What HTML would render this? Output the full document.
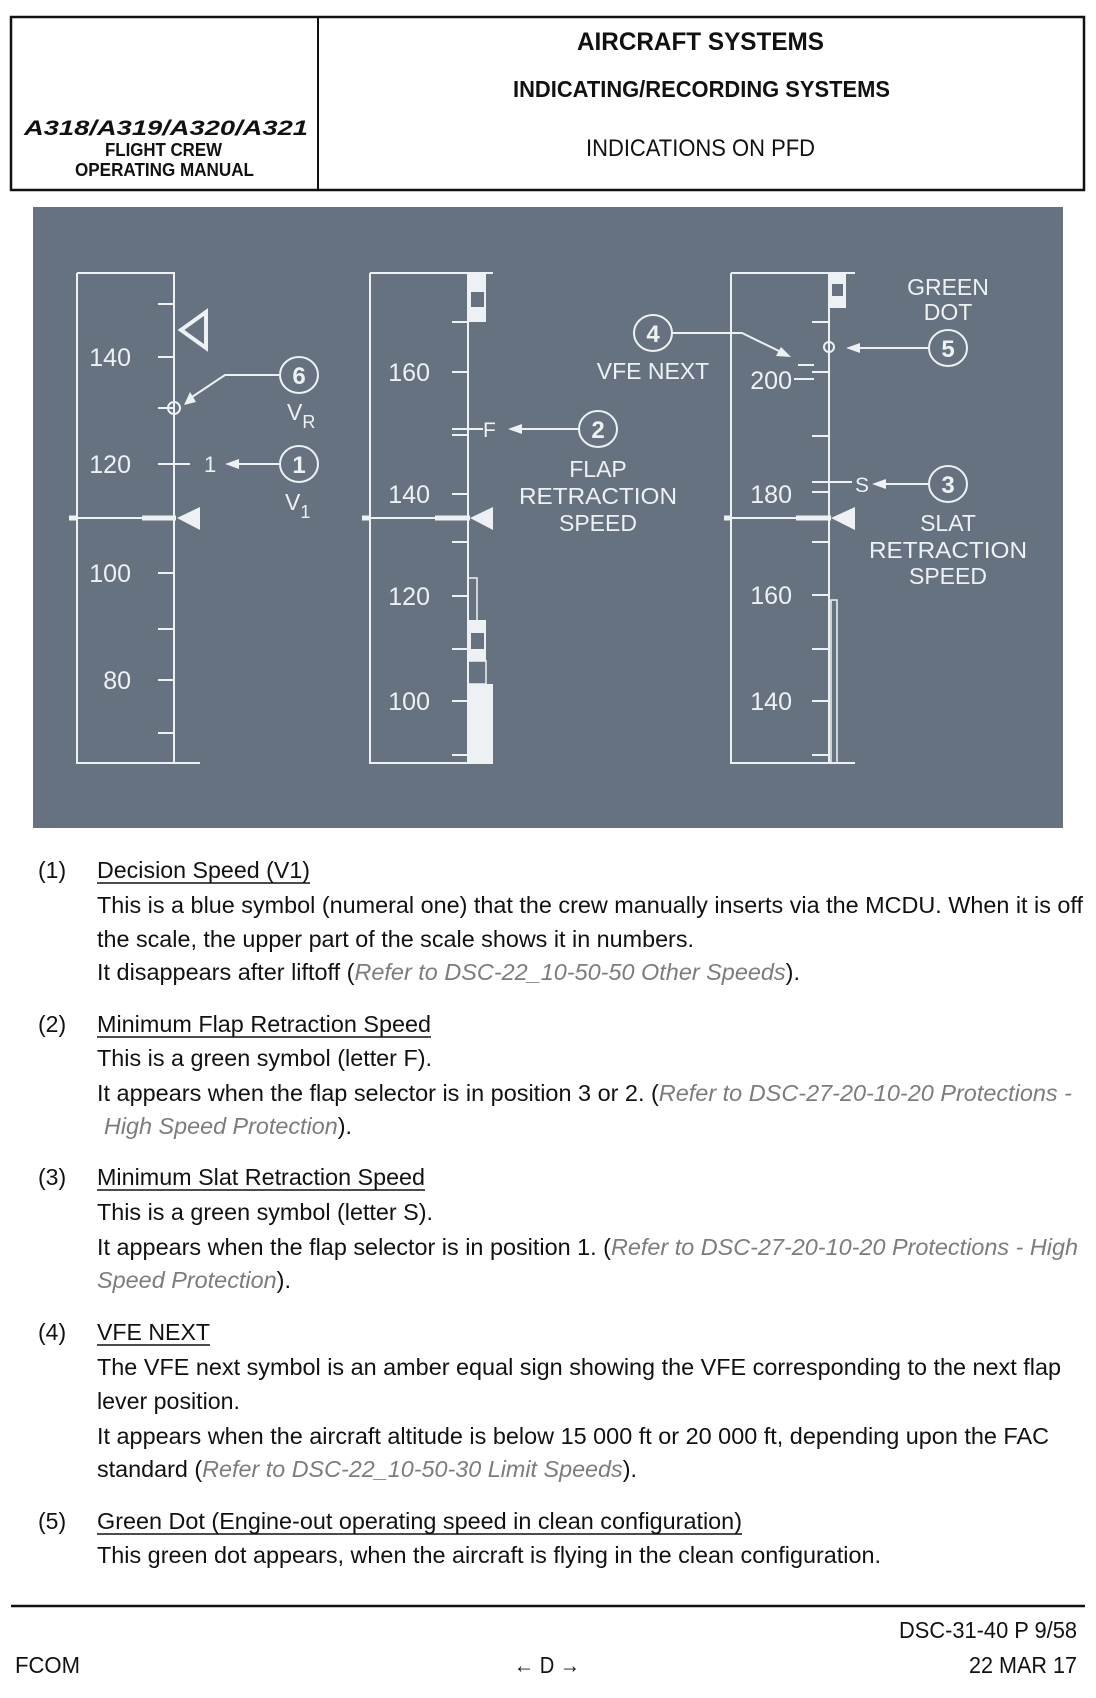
<!DOCTYPE html>
<html><head><meta charset="utf-8"><style>
html,body{margin:0;padding:0;background:#fff;}
svg{display:block;}
text{font-family:"Liberation Sans",sans-serif;}
.w{fill:#eef1f4;}
.ws{stroke:#eef1f4;fill:none;stroke-width:2;}
.b{fill:#111;font-size:23px;}
.g{fill:#7c7c7c;font-style:italic;}
</style></head><body>
<svg width="1096" height="1698" viewBox="0 0 1096 1698" xmlns="http://www.w3.org/2000/svg">
<!-- header -->
<rect x="11" y="17" width="1073" height="173" fill="none" stroke="#111" stroke-width="2.5"/>
<line x1="318" y1="17" x2="318" y2="190" stroke="#111" stroke-width="2"/>
<text x="577" y="50" font-size="25" font-weight="bold" textLength="247" lengthAdjust="spacingAndGlyphs" fill="#111">AIRCRAFT SYSTEMS</text>
<text x="513" y="97" font-size="23" font-weight="bold" textLength="377" lengthAdjust="spacingAndGlyphs" fill="#111">INDICATING/RECORDING SYSTEMS</text>
<text x="586" y="156" font-size="24" textLength="229" lengthAdjust="spacingAndGlyphs" fill="#111">INDICATIONS ON PFD</text>
<text x="24" y="135" font-size="21" font-weight="bold" font-style="italic" textLength="284" lengthAdjust="spacingAndGlyphs" fill="#111">A318/A319/A320/A321</text>
<text x="105" y="156" font-size="18" font-weight="bold" textLength="117" lengthAdjust="spacingAndGlyphs" fill="#111">FLIGHT CREW</text>
<text x="75" y="176" font-size="18" font-weight="bold" textLength="179" lengthAdjust="spacingAndGlyphs" fill="#111">OPERATING MANUAL</text>

<!-- panel -->
<rect x="33" y="207" width="1030" height="621" fill="#66727f"/>

<!-- Gauge 1 -->
<g class="ws">
<polyline points="77,273 77,763 200,763"/>
<line x1="77" y1="273" x2="175" y2="273"/>
<line x1="174" y1="273" x2="174" y2="763"/>
<line x1="158" y1="304" x2="174" y2="304"/><line x1="158" y1="357" x2="174" y2="357"/>
<line x1="158" y1="408" x2="174" y2="408"/><line x1="158" y1="464" x2="190" y2="464"/>
<line x1="158" y1="573" x2="174" y2="573"/><line x1="158" y1="629" x2="174" y2="629"/>
<line x1="158" y1="680" x2="174" y2="680"/><line x1="158" y1="733" x2="174" y2="733"/>
<line x1="69" y1="518" x2="174" y2="518"/>
<circle cx="174" cy="408" r="6"/>
<polygon points="181,330 206,312 206,348" stroke-width="4"/>
<polyline points="280,375 225,375 192,397"/>
<line x1="280" y1="464" x2="236" y2="464"/>
<ellipse cx="299" cy="375" rx="19" ry="18"/>
<ellipse cx="299" cy="464" rx="19" ry="18"/>
</g>
<line x1="142" y1="518" x2="176" y2="518" stroke="#eef1f4" stroke-width="5"/>
<line x1="69" y1="518" x2="77" y2="518" stroke="#eef1f4" stroke-width="5"/>
<polygon class="w" points="177,518 200,507 200,530"/>
<polygon class="w" points="184,405 190,392 196,402"/>
<polygon class="w" points="225,464 239,459 239,469"/>
<g class="w" font-size="25" text-anchor="end">
<text x="131" y="366">140</text><text x="131" y="473">120</text><text x="131" y="582">100</text><text x="131" y="689">80</text>
</g>
<text class="w" x="204" y="472" font-size="22">1</text>
<g class="w" font-size="24" font-weight="bold" text-anchor="middle"><text x="299" y="384">6</text><text x="299" y="473">1</text></g>
<text class="w" x="287" y="420" font-size="23">V<tspan font-size="18" dy="8">R</tspan></text>
<text class="w" x="285" y="510" font-size="23">V<tspan font-size="18" dy="8">1</tspan></text>

<!-- Gauge 2 -->
<g class="ws">
<line x1="370" y1="273" x2="493" y2="273"/>
<polyline points="370,273 370,763 493,763"/>
<line x1="468" y1="273" x2="468" y2="763"/>
<line x1="452" y1="322" x2="468" y2="322"/><line x1="452" y1="372" x2="468" y2="372"/>
<line x1="452" y1="429" x2="483" y2="429"/><line x1="452" y1="435" x2="468" y2="435"/>
<line x1="452" y1="494" x2="468" y2="494"/><line x1="452" y1="542" x2="468" y2="542"/>
<line x1="452" y1="596" x2="468" y2="596"/><line x1="452" y1="649" x2="468" y2="649"/>
<line x1="452" y1="701" x2="468" y2="701"/><line x1="452" y1="755" x2="468" y2="755"/>
<line x1="362" y1="518" x2="468" y2="518"/>
<polyline points="468,578 477,578 477,620" stroke-width="1.5"/>
<rect x="468" y="661" width="18" height="23" stroke-width="1.5"/>
<line x1="579" y1="429" x2="520" y2="429"/>
<ellipse cx="598" cy="429" rx="19" ry="18"/>
</g>
<rect class="w" x="468" y="273" width="18" height="49"/>
<rect x="471" y="292" width="13" height="15" fill="#66727f"/>
<rect class="w" x="468" y="620" width="18" height="41"/>
<rect x="471" y="633" width="13" height="16" fill="#66727f"/>
<rect class="w" x="468" y="684" width="25" height="79"/>
<line x1="435" y1="518" x2="470" y2="518" stroke="#eef1f4" stroke-width="5"/>
<line x1="362" y1="518" x2="370" y2="518" stroke="#eef1f4" stroke-width="5"/>
<polygon class="w" points="470,518 493,507 493,530"/>
<polygon class="w" points="508,429 522,424 522,434"/>
<g class="w" font-size="25" text-anchor="end">
<text x="430" y="381">160</text><text x="430" y="503">140</text><text x="430" y="605">120</text><text x="430" y="710">100</text>
</g>
<text class="w" x="483" y="437" font-size="21">F</text>
<text class="w" x="598" y="438" font-size="24" font-weight="bold" text-anchor="middle">2</text>
<g class="w" font-size="23" text-anchor="middle">
<text x="598" y="477">FLAP</text><text x="598" y="504" textLength="158" lengthAdjust="spacingAndGlyphs">RETRACTION</text><text x="598" y="531">SPEED</text>
</g>

<!-- Gauge 3 -->
<g transform="translate(-4,0)">
<g class="ws">
<line x1="735" y1="273" x2="859" y2="273"/>
<polyline points="735,273 735,763 859,763"/>
<line x1="833" y1="273" x2="833" y2="763"/>
<line x1="816" y1="322" x2="833" y2="322"/>
<line x1="802" y1="365" x2="818" y2="365"/>
<line x1="816" y1="372" x2="833" y2="372"/>
<line x1="798" y1="379" x2="818" y2="379"/>
<line x1="816" y1="436" x2="833" y2="436"/>
<line x1="816" y1="482" x2="856" y2="482"/><line x1="816" y1="492" x2="833" y2="492"/>
<line x1="816" y1="542" x2="833" y2="542"/><line x1="816" y1="595" x2="833" y2="595"/>
<line x1="816" y1="649" x2="833" y2="649"/><line x1="816" y1="701" x2="833" y2="701"/>
<line x1="816" y1="755" x2="833" y2="755"/>
<line x1="728" y1="518" x2="833" y2="518"/>
<polyline points="835,763 835,600 841,600 841,763" stroke-width="1.5"/>
<circle cx="833" cy="347" r="5"/>
<polyline points="676,333 746,333 783,351"/>
<line x1="933" y1="348" x2="864" y2="348"/>
<line x1="933" y1="484" x2="888" y2="484"/>
<ellipse cx="657" cy="333" rx="19" ry="18"/>
<ellipse cx="952" cy="348" rx="19" ry="18"/>
<ellipse cx="952" cy="484" rx="19" ry="18"/>
</g>
<rect class="w" x="833" y="273" width="17" height="35"/>
<rect x="836" y="284" width="11" height="12" fill="#66727f"/>
<line x1="800" y1="518" x2="835" y2="518" stroke="#eef1f4" stroke-width="5"/>
<line x1="728" y1="518" x2="735" y2="518" stroke="#eef1f4" stroke-width="5"/>
<polygon class="w" points="835,518 859,507 859,530"/>
<polygon class="w" points="795,357 780,356 785,347"/>
<polygon class="w" points="850,348 864,343 864,353"/>
<polygon class="w" points="876,484 890,479 890,489"/>
<g class="w" font-size="25" text-anchor="end">
<text x="796" y="389">200</text><text x="796" y="503">180</text><text x="796" y="604">160</text><text x="796" y="710">140</text>
</g>
<text class="w" x="859" y="492" font-size="21">S</text>
<g class="w" font-size="24" font-weight="bold" text-anchor="middle"><text x="657" y="342">4</text><text x="952" y="357">5</text><text x="952" y="493">3</text></g>
<g class="w" font-size="23" text-anchor="middle">
<text x="657" y="379">VFE NEXT</text>
<text x="952" y="295">GREEN</text><text x="952" y="320">DOT</text>
<text x="952" y="531">SLAT</text><text x="952" y="558" textLength="158" lengthAdjust="spacingAndGlyphs">RETRACTION</text><text x="952" y="584">SPEED</text>
</g>
</g>

<!-- body text -->
<g class="b">
<text x="38" y="878">(1)</text>
<text x="97" y="878" textLength="213" lengthAdjust="spacingAndGlyphs">Decision Speed (V1)</text>
<line x1="97" y1="883" x2="310" y2="883" stroke="#111" stroke-width="1.5"/>
<text x="97" y="913" textLength="986" lengthAdjust="spacingAndGlyphs">This is a blue symbol (numeral one) that the crew manually inserts via the MCDU. When it is off</text>
<text x="97" y="947" textLength="597" lengthAdjust="spacingAndGlyphs">the scale, the upper part of the scale shows it in numbers.</text>
<text x="97" y="980" textLength="703" lengthAdjust="spacingAndGlyphs">It disappears after liftoff (<tspan class="g">Refer to DSC-22_10-50-50 Other Speeds</tspan>).</text>

<text x="38" y="1032">(2)</text>
<text x="97" y="1032" textLength="334" lengthAdjust="spacingAndGlyphs">Minimum Flap Retraction Speed</text>
<line x1="97" y1="1037" x2="431" y2="1037" stroke="#111" stroke-width="1.5"/>
<text x="97" y="1066" textLength="335" lengthAdjust="spacingAndGlyphs">This is a green symbol (letter F).</text>
<text x="97" y="1101" textLength="975" lengthAdjust="spacingAndGlyphs">It appears when the flap selector is in position 3 or 2. (<tspan class="g">Refer to DSC-27-20-10-20 Protections -</tspan></text>
<text x="104" y="1134" textLength="248" lengthAdjust="spacingAndGlyphs"><tspan class="g">High Speed Protection</tspan>).</text>

<text x="38" y="1185">(3)</text>
<text x="97" y="1185" textLength="328" lengthAdjust="spacingAndGlyphs">Minimum Slat Retraction Speed</text>
<line x1="97" y1="1190" x2="425" y2="1190" stroke="#111" stroke-width="1.5"/>
<text x="97" y="1220" textLength="336" lengthAdjust="spacingAndGlyphs">This is a green symbol (letter S).</text>
<text x="97" y="1255" textLength="981" lengthAdjust="spacingAndGlyphs">It appears when the flap selector is in position 1. (<tspan class="g">Refer to DSC-27-20-10-20 Protections - High</tspan></text>
<text x="97" y="1288" textLength="194" lengthAdjust="spacingAndGlyphs"><tspan class="g">Speed Protection</tspan>).</text>

<text x="38" y="1340">(4)</text>
<text x="97" y="1340" textLength="113" lengthAdjust="spacingAndGlyphs">VFE NEXT</text>
<line x1="97" y1="1345" x2="210" y2="1345" stroke="#111" stroke-width="1.5"/>
<text x="97" y="1375" textLength="964" lengthAdjust="spacingAndGlyphs">The VFE next symbol is an amber equal sign showing the VFE corresponding to the next flap</text>
<text x="97" y="1409" textLength="143" lengthAdjust="spacingAndGlyphs">lever position.</text>
<text x="97" y="1444" textLength="952" lengthAdjust="spacingAndGlyphs">It appears when the aircraft altitude is below 15 000 ft or 20 000 ft, depending upon the FAC</text>
<text x="97" y="1477" textLength="540" lengthAdjust="spacingAndGlyphs">standard (<tspan class="g">Refer to DSC-22_10-50-30 Limit Speeds</tspan>).</text>

<text x="38" y="1529">(5)</text>
<text x="97" y="1529" textLength="645" lengthAdjust="spacingAndGlyphs">Green Dot (Engine-out operating speed in clean configuration)</text>
<line x1="97" y1="1534" x2="742" y2="1534" stroke="#111" stroke-width="1.5"/>
<text x="97" y="1563" textLength="784" lengthAdjust="spacingAndGlyphs">This green dot appears, when the aircraft is flying in the clean configuration.</text>
</g>

<!-- footer -->
<line x1="11" y1="1606" x2="1085" y2="1606" stroke="#111" stroke-width="2.5"/>
<text x="899" y="1638" font-size="23" textLength="178" lengthAdjust="spacingAndGlyphs" fill="#111">DSC-31-40 P 9/58</text>
<text x="15" y="1673" font-size="23" textLength="65" lengthAdjust="spacingAndGlyphs" fill="#111">FCOM</text>
<text x="514" y="1673" font-size="23" textLength="66" lengthAdjust="spacingAndGlyphs" fill="#111">← D →</text>
<text x="969" y="1673" font-size="23" textLength="108" lengthAdjust="spacingAndGlyphs" fill="#111">22 MAR 17</text>
</svg>
</body></html>
